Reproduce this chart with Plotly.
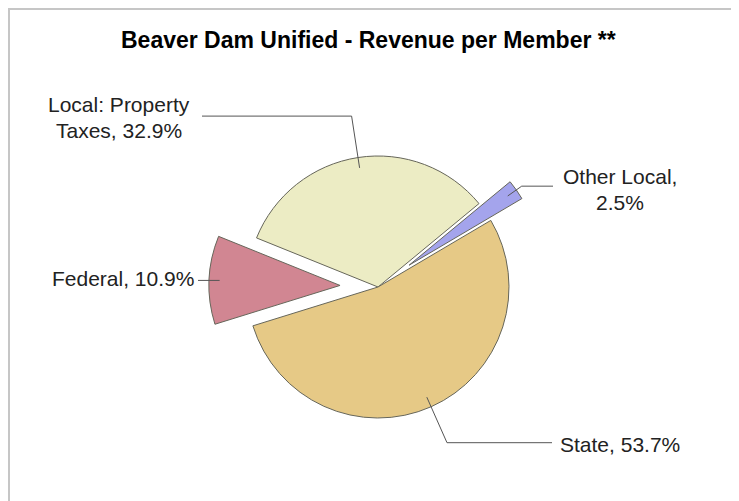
import math
import plotly.graph_objects as go

# ---- data ----
title_text = "Beaver Dam Unified - Revenue per Member **"
categories = ["Local: Property Taxes", "Other Local", "State", "Federal"]
shares = [32.9, 2.5, 53.7, 10.9]
pulls = [0.0, 0.29, 0.0, 0.29]
colors = ["#ECECC4", "#A4A4EC", "#E6C986", "#D18692"]

# ---- layout constants (screen pixels) ----
OFF = 8                      # page body margin of the browser
W, H = 739 - OFF, 501 - OFF  # figure size that fits the window
CX, CY = 378, 287
R = 131
ROTATION = 292
# label placement: (anchor x, first-line y, line gap, xanchor, word index to break after)
label_pos = [
    (119, 104, 27, "center", 2),
    (620, 177, 25, "center", 2),
    (558, 444, 0, "left", None),
    (196, 278, 0, "right", None),
]
leader_start = [0.92, 0.92, 0.92, 0.92]      # radius fraction inside slice
leader_elbow = [1.32, 1.05, 1.30, 0.92]      # radius fraction of the bend
leader_end_x = [202, 553, 552, 198]          # end of horizontal segment


def px(x):
    return (x - OFF) / W


def py(y):
    return 1 - (y - OFF) / H


max_pull = max(pulls)
half = R * (1 + max_pull)

fig = go.Figure(go.Pie(
    labels=categories,
    values=shares,
    sort=False,
    direction="clockwise",
    rotation=ROTATION,
    pull=pulls,
    textinfo="none",
    marker=dict(colors=colors, line=dict(color="#66665A", width=1)),
    domain=dict(x=[px(CX - half), px(CX + half)],
                y=[py(CY + half), py(CY - half)]),
    showlegend=False,
))

shapes = [dict(type="rect", xref="paper", yref="paper",
               x0=px(9), y0=py(9), x1=px(W + 40), y1=py(H + 40),
               line=dict(color="#C6C6C6", width=2), layer="below")]
annotations = []

total = sum(shares)
cum = 0.0
for i, (cat, val) in enumerate(zip(categories, shares)):
    mid = ROTATION + 360 * (cum + val / 2) / total
    cum += val
    a = math.radians(mid)
    ux, uy = math.sin(a), -math.cos(a)
    ox, oy = CX + pulls[i] * R * ux, CY + pulls[i] * R * uy
    sx, sy = ox + leader_start[i] * R * ux, oy + leader_start[i] * R * uy
    ex, ey = ox + leader_elbow[i] * R * ux, oy + leader_elbow[i] * R * uy
    path = f"M {px(sx)},{py(sy)} L {px(ex)},{py(ey)} L {px(leader_end_x[i])},{py(ey)}"
    shapes.append(dict(type="path", xref="paper", yref="paper", path=path,
                       line=dict(color="#555555", width=1)))

    text = f"{cat}, {val}%"
    lx, ly, gap, xa, brk = label_pos[i]
    words = text.split(" ")
    lines = [text] if brk is None else [" ".join(words[:brk]), " ".join(words[brk:])]
    for j, line in enumerate(lines):
        annotations.append(dict(x=px(lx), y=py(ly + j * gap), xref="paper", yref="paper",
                                text=line, showarrow=False, xanchor=xa, yanchor="middle",
                                font=dict(family="Liberation Sans, Arial, sans-serif",
                                          size=21, color="#222222")))

annotations.append(dict(x=px(368), y=py(40), xref="paper", yref="paper",
                        text=f"<b>{title_text}</b>", showarrow=False,
                        xanchor="center", yanchor="middle",
                        font=dict(family="Liberation Sans, Arial, sans-serif",
                                  size=23, color="#000000")))

fig.update_layout(
    width=W, height=H, autosize=False,
    margin=dict(l=0, r=0, t=0, b=0),
    paper_bgcolor="white", plot_bgcolor="white",
    shapes=shapes, annotations=annotations,
)

fig.write_html("out.html")
